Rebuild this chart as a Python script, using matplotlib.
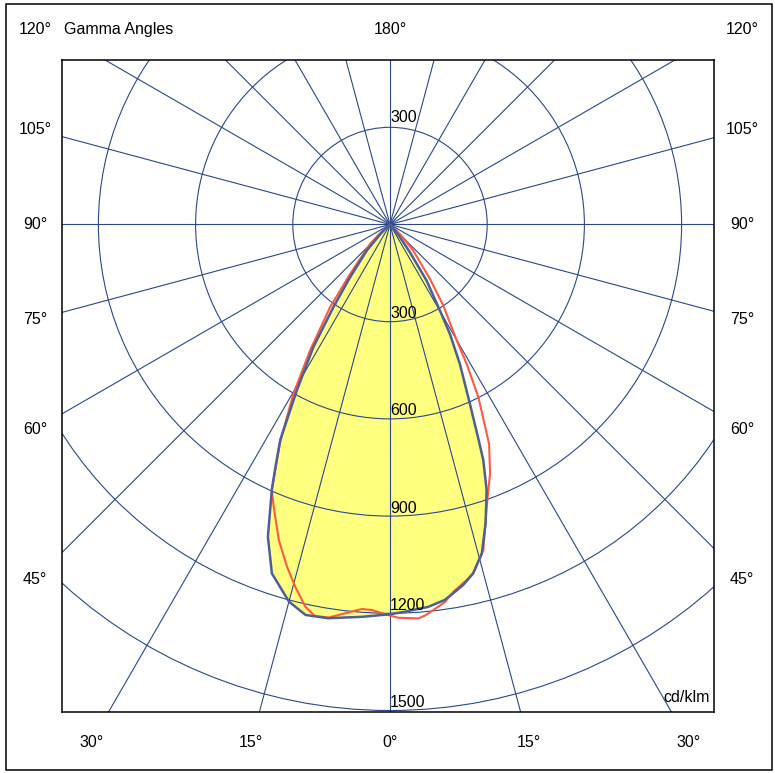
import numpy as np
import matplotlib
matplotlib.use("Agg")
import matplotlib.pyplot as plt
from matplotlib.patches import Rectangle, Circle, Polygon

plt.rcParams['font.family'] = ['Liberation Sans', 'DejaVu Sans']

# ---------------- data (cd/klm vs gamma angle, degrees) ----------------
# C0-C180 plane (blue, filled)
blue_right_gamma = [0, 2.2, 5.7, 8.3, 9.7, 11.5, 13.4, 15.6, 17.75, 20.0, 21.6, 22.3,
                    24.0, 26.6, 28.7, 30.1, 33.1, 35.7, 38, 45, 60]
blue_right_I = [1203, 1196, 1186, 1171, 1155, 1135, 1107, 1054, 968, 872, 782, 724,
                607, 482, 385, 308, 207, 106, 50, 10, 0]
blue_left_gamma = [0, 4.1, 8.9, 12.2, 15.0, 18.7, 21.35, 24.0, 25.3, 27.0, 29.3, 32.0,
                   34.4, 37.1, 41.7, 45, 52, 60]
blue_left_I = [1203, 1214, 1230, 1233, 1205, 1137, 1035, 897, 827, 746, 588, 447,
               310, 205, 108, 44, 10, 0]
# C90-C270 plane (red)
red_right_gamma = [0, 1.2, 4.1, 5.1, 7.2, 8.3, 9.8, 12.2, 13.4, 16.0, 18.9, 21.9, 24.3,
                   27.1, 28.8, 29.9, 33.3, 36.3, 41.7, 45, 52, 60]
red_right_I = [1207, 1214, 1219, 1212, 1189, 1177, 1150, 1122, 1107, 1045, 921, 828, 743,
               599, 491, 414, 300, 209, 108, 51, 12, 0]
red_left_gamma = [0, 1.2, 2.7, 4.2, 6.6, 8.9, 10.9, 12.5, 14.65, 16.75, 19.4, 22.4, 24.0,
                  26.8, 29.7, 32.4, 35.9, 38.9, 45.7, 52, 60]
red_left_I = [1207, 1200, 1191, 1190, 1208, 1228, 1230, 1208, 1156, 1103, 1033, 942, 897,
              752, 602, 461, 316, 196, 86, 25, 0]

ring_values = [300, 600, 900, 1200, 1500]
side_angles = [45, 60, 75, 90, 105]
bottom_angles = [-30, -15, 0, 15, 30]
unit_label = "cd/klm"
title_label = "Gamma Angles"

# ---------------- layout ----------------
W, H = 775, 773
S = 0.324            # px per cd/klm
CX, CY = 390, 224.5  # pixel position of the centre
FL, FR, FT, FB = 62, 714, 60, 712  # frame in pixels

fig = plt.figure(figsize=(W / 100, H / 100), dpi=100)
fig.patch.set_facecolor('white')
ax = fig.add_axes([FL / W, 1 - FB / H, (FR - FL) / W, (FB - FT) / H])
ax.set_xlim((FL - CX) / S, (FR - CX) / S)
ax.set_ylim(-(FB - CY) / S, (CY - FT) / S)
ax.set_xticks([])
ax.set_yticks([])
for sp in ax.spines.values():
    sp.set_linewidth(1.1)
    sp.set_color('black')
    sp.set_zorder(10)

grid_c = '#2A488A'
fill_c = '#FFFF80'
blue_c = '#4C5F98'
red_c = '#FF5A3C'


def to_xy(gam, I, side):
    g = np.radians(np.asarray(gam, float))
    I = np.asarray(I, float)
    return side * I * np.sin(g), -I * np.cos(g)


# blue polygon (filled)
lx, ly = to_xy(blue_left_gamma, blue_left_I, -1)
rx, ry = to_xy(blue_right_gamma, blue_right_I, 1)
bx = np.concatenate([lx[::-1], rx[1:]])
by = np.concatenate([ly[::-1], ry[1:]])
ax.add_patch(Polygon(np.column_stack([bx, by]), closed=True, facecolor=fill_c,
                     edgecolor='none', zorder=1))

# grid
for a in range(0, 360, 15):
    t = np.radians(a)
    ax.plot([0, 3000 * np.sin(t)], [0, -3000 * np.cos(t)], color=grid_c, lw=0.8, zorder=2)
for r in ring_values:
    ax.add_patch(Circle((0, 0), r, fill=False, edgecolor=grid_c, lw=0.8, zorder=2))

# red curve
lx2, ly2 = to_xy(red_left_gamma, red_left_I, -1)
rx2, ry2 = to_xy(red_right_gamma, red_right_I, 1)
ax.plot(np.concatenate([lx2[::-1], rx2[1:]]), np.concatenate([ly2[::-1], ry2[1:]]),
        color=red_c, lw=1.5, zorder=3, solid_joinstyle='round')
# blue curve outline
ax.plot(np.append(bx, bx[0]), np.append(by, by[0]), color=blue_c, lw=1.8, zorder=4,
        solid_joinstyle='round')

fs = 11.5
# ring labels
for r in ring_values:
    ax.text(0, -r + 11, str(r), ha='left', va='baseline', fontsize=fs, zorder=6)
ax.text(0, ring_values[0] + 16, str(ring_values[0]), ha='left', va='baseline',
        fontsize=fs, zorder=6)

# angle labels
XL = (35 - CX) / S
XR = (742 - CX) / S
YTOP = (CY - 30) / S
YBOT = -(742 - CY) / S
for a in side_angles:
    y = -abs(XL) / np.tan(np.radians(a)) if a != 90 else 0.0
    ax.text(XL, y, f"{a}°", ha='center', va='center', fontsize=fs)
    ax.text(XR, y, f"{a}°", ha='center', va='center', fontsize=fs)
for a in bottom_angles:
    x = abs(YBOT) * np.tan(np.radians(a))
    ax.text(x, YBOT, f"{abs(a)}°", ha='center', va='center', fontsize=fs)
ax.text(XL, YTOP, "120°", ha='center', va='center', fontsize=fs)
ax.text(XR, YTOP, "120°", ha='center', va='center', fontsize=fs)
ax.text(0, YTOP, "180°", ha='center', va='center', fontsize=fs)
ax.text((64 - CX) / S, YTOP, title_label, ha='left', va='center', fontsize=fs)
ax.text((710 - CX) / S, -(702 - CY) / S, unit_label, ha='right', va='baseline',
        fontsize=fs, zorder=6)

# outer border
fig.add_artist(Rectangle((5.5 / W, 1 - 770 / H), (772 - 5.5) / W, (770 - 4) / H,
                         transform=fig.transFigure, fill=False, edgecolor='black', lw=1.1))

fig.savefig("out.png", dpi=100, facecolor='white')
